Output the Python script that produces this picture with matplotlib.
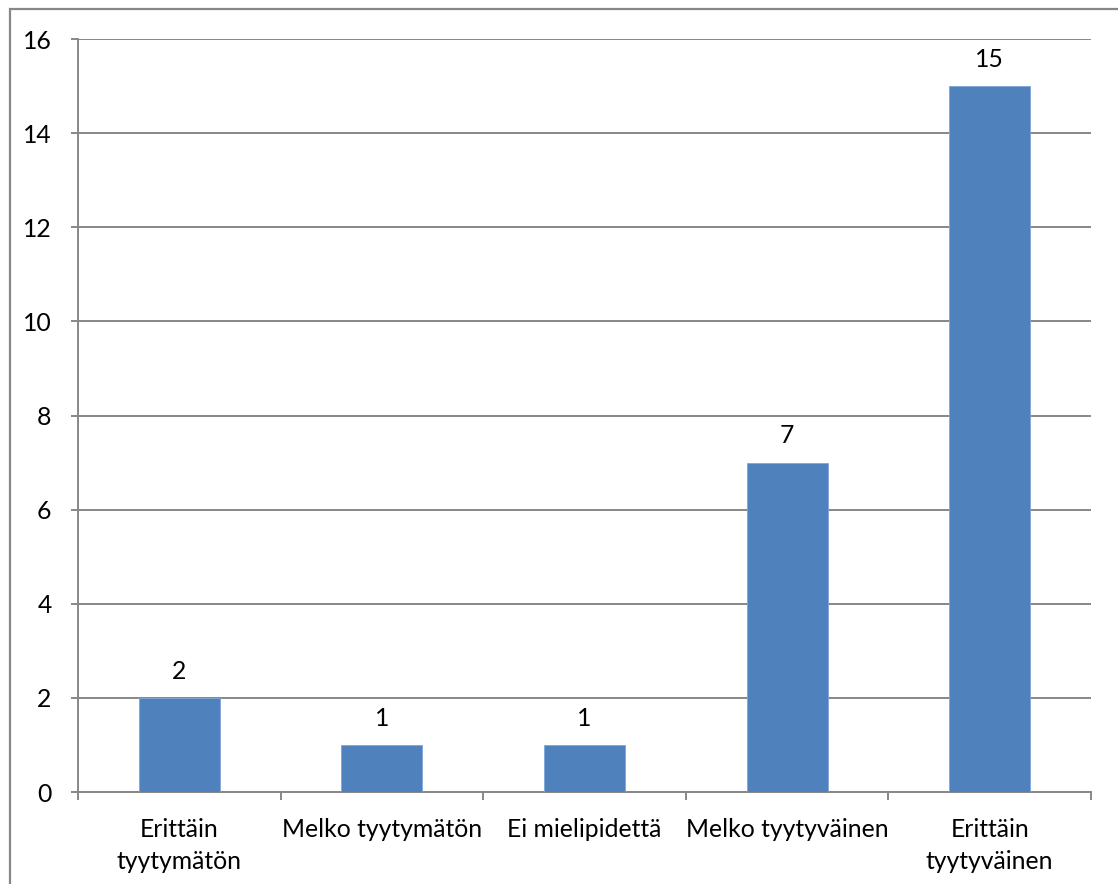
import matplotlib
matplotlib.use("Agg")
import matplotlib.pyplot as plt
from matplotlib.patches import Rectangle

categories = ["Erittäin\ntyytymätön", "Melko tyytymätön", "Ei mielipidettä",
              "Melko tyytyväinen", "Erittäin\ntyytyväinen"]
values = [2, 1, 1, 7, 15]
yticks = [0, 2, 4, 6, 8, 10, 12, 14, 16]

plt.rcParams['font.family'] = ['Lato', 'DejaVu Sans']

W, H = 1118, 884
fig = plt.figure(figsize=(W / 100, H / 100), dpi=100)

# outer chart frame
fig.patches.append(Rectangle((10 / W, -0.01), 1.2, 1 - 9 / H + 0.01,
                             transform=fig.transFigure, fill=False,
                             edgecolor="#878787", linewidth=1.6))

left, right, top, bottom = 78, 1091, 39, 792
ax = fig.add_axes([left / W, 1 - bottom / H, (right - left) / W, (bottom - top) / H])

grid_color = "#878787"
fs = 17.8
x = range(len(categories))
ax.bar(x, values, width=0.4, color="#4F81BD", edgecolor="#7FA6D6", linewidth=0.6, zorder=3)
for xi, v in zip(x, values):
    ax.annotate(str(v), (xi, v), xytext=(0, 11), textcoords="offset points",
                ha="center", va="bottom", fontsize=fs, color="black")

ax.set_xlim(-0.5, len(categories) - 0.5)
ax.set_ylim(0, 16)
ax.set_yticks(yticks)
ax.set_yticklabels([str(t) for t in yticks], fontsize=fs)
ax.yaxis.grid(True, color=grid_color, linewidth=1.4, zorder=0)
ax.set_axisbelow(True)

ax.set_xticks(list(x))
ax.set_xticklabels(categories, fontsize=fs, linespacing=1.45)
ax.tick_params(axis="x", length=0, pad=19)
ax.set_xticks([i - 0.5 for i in range(len(categories) + 1)], minor=True)
ax.tick_params(axis="x", which="minor", length=6, width=1.4, color=grid_color, direction="out")
ax.tick_params(axis="y", length=5, width=1.4, color=grid_color, direction="out", pad=14)

for s in ["top", "right"]:
    ax.spines[s].set_visible(False)
for s in ["left", "bottom"]:
    ax.spines[s].set_color(grid_color)
    ax.spines[s].set_linewidth(1.4)

fig.savefig("out.png", dpi=100)
